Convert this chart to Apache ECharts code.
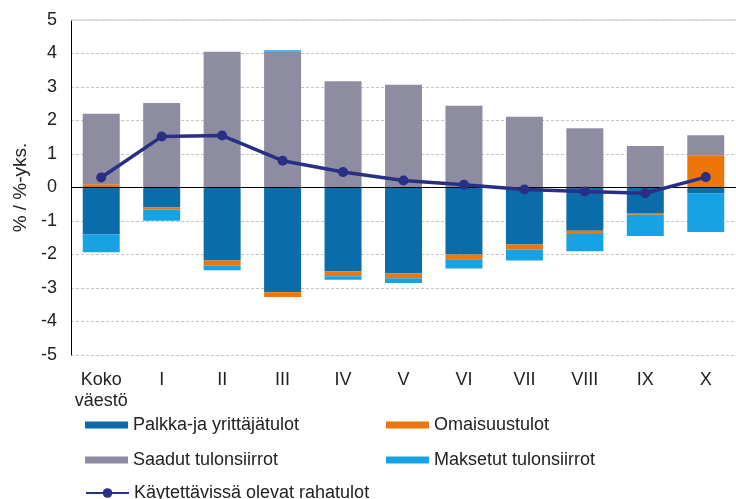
<!DOCTYPE html>
<html>
<head>
<meta charset="utf-8">
<script src="https://cdn.jsdelivr.net/npm/echarts@6/dist/echarts.min.js"></script>
<style>
html,body{margin:0;padding:0;background:#fff;}
#chart{width:736px;height:499px;}
</style>
</head>
<body>
<div id="chart"></div>
<script>
const categories = ['Koko\nväestö','I','II','III','IV','V','VI','VII','VIII','IX','X'];
const palkka   = [-1.40,-0.60,-2.18,-3.13,-2.50,-2.56,-2.00,-1.70,-1.29,-0.76,-0.17];
const omaisuus = [ 0.10,-0.06,-0.15,-0.14,-0.15,-0.15,-0.14,-0.15,-0.10,-0.05, 0.96];
const saadut   = [ 2.10, 2.52, 4.05, 4.05, 3.17, 3.07, 2.44, 2.11, 1.77, 1.24, 0.60];
const maksetut = [-0.53,-0.33,-0.14, 0.05,-0.10,-0.14,-0.28,-0.33,-0.51,-0.64,-1.16];
const kaytettavissa = [0.30,1.52,1.55,0.80,0.46,0.21,0.08,-0.06,-0.12,-0.17,0.31];
const yTicks = [-5,-4,-3,-2,-1,0,1,2,3,4,5];

const names = ['Palkka-ja yrittäjätulot','Omaisuustulot','Saadut tulonsiirrot','Maksetut tulonsiirrot','Käytettävissä olevat rahatulot'];
const colors = ['#0B6CAA','#EE7608','#8E8CA0','#17A2E4','#2A2F86'];
const font = 'Liberation Sans, Arial, sans-serif';

const chart = echarts.init(document.getElementById('chart'));
function bar(i, data){
  return {name:names[i], type:'bar', stack:'tot', data:data, barWidth:37,
    itemStyle:{color:colors[i]}, emphasis:{disabled:true}};
}
function lg(name, left, top, extra){
  return Object.assign({data:[{name:name, icon:'rect'}], left:left, top:top, itemWidth:43, itemHeight:7, itemGap:0,
    textStyle:{fontFamily:font, fontSize:18, color:'#222'}, selectedMode:false}, extra||{});
}
chart.setOption({
  animation:false,
  grid:{left:71, right:0, top:20, bottom:144},
  legend:[
    lg(names[0], 80, 411),
    lg(names[1], 381, 411),
    lg(names[2], 80, 446),
    lg(names[3], 381, 446),
    lg(names[4], 80, 479, {itemHeight:12, data:[names[4]]})
  ],
  xAxis:{type:'category', data:categories,
    axisLine:{show:false}, axisTick:{show:false},
    axisLabel:{fontFamily:font, fontSize:18, color:'#222', margin:15, lineHeight:21, interval:0}},
  yAxis:{type:'value', min:yTicks[0], max:yTicks[yTicks.length-1], interval:1,
    name:'% / %-yks.', nameLocation:'middle', nameGap:41, nameRotate:90,
    nameTextStyle:{fontFamily:font, fontSize:19, color:'#222'},
    axisLine:{show:true, lineStyle:{color:'#000', width:1}}, axisTick:{show:false},
    axisLabel:{fontFamily:font, fontSize:18, color:'#222', margin:14},
    splitLine:{lineStyle:{color:'#c4c4c4', type:[3,2], width:1}}},
  series:[
    bar(0, palkka),
    bar(1, omaisuus),
    bar(2, saadut),
    bar(3, maksetut),
    {name:names[4], type:'line', data:kaytettavissa, z:5,
      symbol:'circle', symbolSize:10,
      lineStyle:{color:colors[4], width:3.5}, itemStyle:{color:colors[4]},
      emphasis:{disabled:true},
      markLine:{silent:true, symbol:'none', label:{show:false}, z:4,
        data:[{yAxis:0, lineStyle:{color:'#000', width:1.2, type:'solid'}},
              {yAxis:5, lineStyle:{color:'#d9d9d9', width:1.5, type:'solid'}}]}}
  ]
});
</script>
</body>
</html>
